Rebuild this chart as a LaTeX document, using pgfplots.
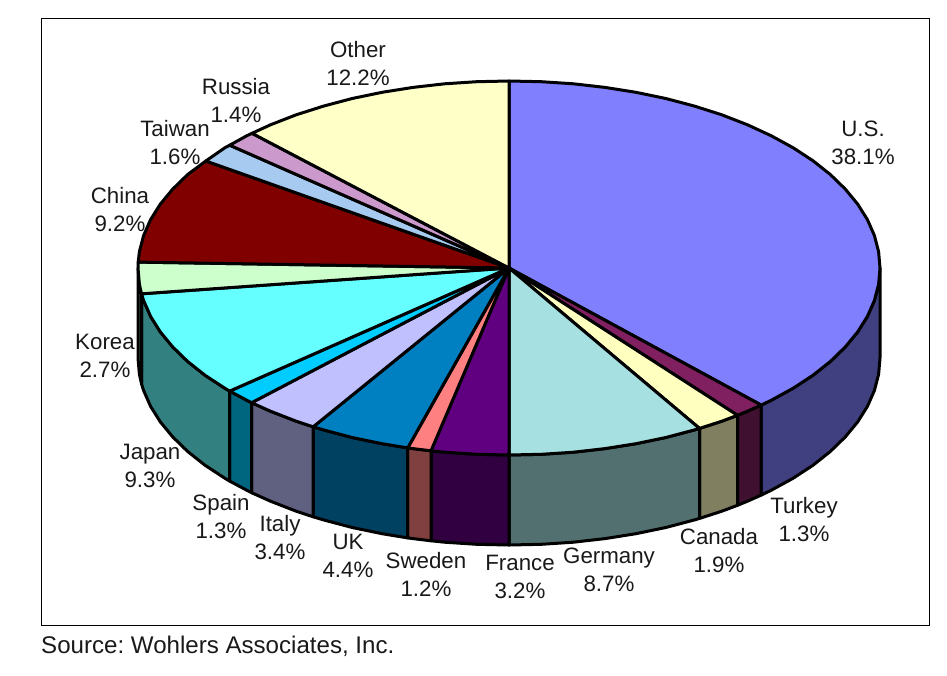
\documentclass[border=0pt]{standalone}
\usepackage{pgfplots}
\pgfplotsset{compat=1.18}
\usepackage{fontspec}
\setmainfont{Liberation Sans}
\definecolor{cUS}{HTML}{8080FF}\definecolor{sUS}{HTML}{404080}
\definecolor{cTU}{HTML}{802060}\definecolor{sTU}{HTML}{401030}
\definecolor{cCA}{HTML}{FFFFC0}\definecolor{sCA}{HTML}{808060}
\definecolor{cGE}{HTML}{A6E0E0}\definecolor{sGE}{HTML}{537070}
\definecolor{cFR}{HTML}{600080}\definecolor{sFR}{HTML}{300040}
\definecolor{cSW}{HTML}{FF8080}\definecolor{sSW}{HTML}{804040}
\definecolor{cUK}{HTML}{0080C0}\definecolor{sUK}{HTML}{004060}
\definecolor{cIT}{HTML}{C0C0FF}\definecolor{sIT}{HTML}{606080}
\definecolor{cSP}{HTML}{00CCFF}\definecolor{sSP}{HTML}{006680}
\definecolor{cJA}{HTML}{66FFFF}\definecolor{sJA}{HTML}{338080}
\definecolor{cKO}{HTML}{CCFFCC}\definecolor{sKO}{HTML}{668066}
\definecolor{cCH}{HTML}{800000}
\definecolor{cTA}{HTML}{A6CAF0}
\definecolor{cRU}{HTML}{CC99CC}
\definecolor{cOT}{HTML}{FFFFC8}
\tikzset{lab/.style={align=center,font=\fontsize{22.3}{28}\selectfont,text=black!90,inner sep=0pt}}
\begin{document}
\frenchspacing
\begin{tikzpicture}[x=1pt,y=1pt]
\path[use as bounding box] (0,0) rectangle (947,675);
\begin{axis}[
  at={(0,0)},anchor=south west,
  scale only axis,width=947pt,height=675pt,
  xmin=0,xmax=947,ymin=0,ymax=675,y dir=reverse,
  hide axis,clip=false,
  every axis plot/.append style={line width=3pt,line join=round,draw=black},
]
% frame
\addplot[draw=black,line width=1pt,line join=miter] coordinates {(41,18)(929,18)(929,625)(41,625)} -- cycle;
% sides
\addplot[fill=sUS] coordinates {(880,268)(878.6,284.3)(874.4,300.5)(867.4,316.4)(857.6,332)(845.2,347)(830.3,361.5)(812.9,375.3)(793.2,388.2)(771.3,400.2)(761.2,405.1)(761.2,495.1)(771.3,490.2)(793.2,478.2)(812.9,465.3)(830.3,451.5)(845.2,437)(857.6,422)(867.4,406.4)(874.4,390.5)(878.6,374.3)(880,358)} -- cycle;
\addplot[fill=sTU] coordinates {(761.2,405.1)(747.5,411.2)(737.5,415.3)(737.5,505.3)(747.5,501.2)(761.2,495.1)} -- cycle;
\addplot[fill=sCA] coordinates {(737.5,415.3)(721.8,421.2)(699.5,428.4)(699.5,518.4)(721.8,511.2)(737.5,505.3)} -- cycle;
\addplot[fill=sGE] coordinates {(699.5,428.4)(694.5,429.9)(665.8,437.5)(635.9,443.7)(605,448.6)(573.4,452.2)(541.3,454.3)(509,455)(509,545)(541.3,544.3)(573.4,542.2)(605,538.6)(635.9,533.7)(665.8,527.5)(694.5,519.9)(699.5,518.4)} -- cycle;
\addplot[fill=sFR] coordinates {(509,455)(476.7,454.3)(444.6,452.2)(431,450.8)(431,540.8)(444.6,542.2)(476.7,544.3)(509,545)} -- cycle;
\addplot[fill=sSW] coordinates {(431,450.8)(413,448.6)(407.7,447.9)(407.7,537.9)(413,538.6)(431,540.8)} -- cycle;
\addplot[fill=sUK] coordinates {(407.7,447.9)(382.1,443.7)(352.2,437.5)(323.5,429.9)(313.2,426.8)(313.2,516.8)(323.5,519.9)(352.2,527.5)(382.1,533.7)(407.7,537.9)} -- cycle;
\addplot[fill=sIT] coordinates {(313.2,426.8)(296.2,421.2)(270.5,411.2)(251.6,402.7)(251.6,492.7)(270.5,501.2)(296.2,511.2)(313.2,516.8)} -- cycle;
\addplot[fill=sSP] coordinates {(251.6,402.7)(246.7,400.2)(229.7,391.1)(229.7,481.1)(246.7,490.2)(251.6,492.7)} -- cycle;
\addplot[fill=sJA] coordinates {(229.7,391.1)(224.8,388.2)(205.1,375.3)(187.7,361.5)(172.8,347)(160.4,332)(150.6,316.4)(143.6,300.5)(141.5,293.8)(141.5,383.8)(143.6,390.5)(150.6,406.4)(160.4,422)(172.8,437)(187.7,451.5)(205.1,465.3)(224.8,478.2)(229.7,481.1)} -- cycle;
\addplot[fill=sKO] coordinates {(141.5,293.8)(139.4,284.3)(138,268)(138,358)(139.4,374.3)(141.5,383.8)} -- cycle;
% top wedges
\addplot[fill=cUS] coordinates {(509,268)(509,81)(541.3,81.7)(573.4,83.8)(605,87.4)(635.9,92.3)(665.8,98.5)(694.5,106.1)(721.8,114.8)(747.5,124.8)(771.3,135.8)(793.2,147.8)(812.9,160.7)(830.3,174.5)(845.2,189)(857.6,204)(867.4,219.6)(874.4,235.5)(878.6,251.7)(880,268)(878.6,284.3)(874.4,300.5)(867.4,316.4)(857.6,332)(845.2,347)(830.3,361.5)(812.9,375.3)(793.2,388.2)(771.3,400.2)(761.2,405.1)} -- cycle;
\addplot[fill=cTU] coordinates {(509,268)(761.2,405.1)(747.5,411.2)(737.5,415.3)} -- cycle;
\addplot[fill=cCA] coordinates {(509,268)(737.5,415.3)(721.8,421.2)(699.5,428.4)} -- cycle;
\addplot[fill=cGE] coordinates {(509,268)(699.5,428.4)(694.5,429.9)(665.8,437.5)(635.9,443.7)(605,448.6)(573.4,452.2)(541.3,454.3)(509,455)} -- cycle;
\addplot[fill=cFR] coordinates {(509,268)(509,455)(476.7,454.3)(444.6,452.2)(431,450.8)} -- cycle;
\addplot[fill=cSW] coordinates {(509,268)(431,450.8)(413,448.6)(407.7,447.9)} -- cycle;
\addplot[fill=cUK] coordinates {(509,268)(407.7,447.9)(382.1,443.7)(352.2,437.5)(323.5,429.9)(313.2,426.8)} -- cycle;
\addplot[fill=cIT] coordinates {(509,268)(313.2,426.8)(296.2,421.2)(270.5,411.2)(251.6,402.7)} -- cycle;
\addplot[fill=cSP] coordinates {(509,268)(251.6,402.7)(246.7,400.2)(229.7,391.1)} -- cycle;
\addplot[fill=cJA] coordinates {(509,268)(229.7,391.1)(224.8,388.2)(205.1,375.3)(187.7,361.5)(172.8,347)(160.4,332)(150.6,316.4)(143.6,300.5)(141.5,293.8)} -- cycle;
\addplot[fill=cKO] coordinates {(509,268)(141.5,293.8)(139.4,284.3)(138,268)(138.2,262.1)} -- cycle;
\addplot[fill=cCH] coordinates {(509,268)(138.2,262.1)(139.4,251.7)(143.6,235.5)(150.6,219.6)(160.4,204)(172.8,189)(187.7,174.5)(205.8,161)} -- cycle;
\addplot[fill=cTA] coordinates {(509,268)(205.8,161)(224.8,147.8)(229.7,145.2)} -- cycle;
\addplot[fill=cRU] coordinates {(509,268)(229.7,145.2)(246.7,135.8)(252,133.3)} -- cycle;
\addplot[fill=cOT] coordinates {(509,268)(252,133.3)(270.5,124.8)(296.2,114.8)(323.5,106.1)(352.2,98.5)(382.1,92.3)(413,87.4)(444.6,83.8)(476.7,81.7)(509,81)} -- cycle;
% labels
\node[lab] at (axis cs:863,143) {U.S.\\38.1\%};
\node[lab] at (axis cs:804,520) {Turkey\\1.3\%};
\node[lab] at (axis cs:719,551) {Canada\\1.9\%};
\node[lab] at (axis cs:609,570) {Germany\\8.7\%};
\node[lab] at (axis cs:520,577) {France\\3.2\%};
\node[lab] at (axis cs:426,574) {Sweden\\1.2\%};
\node[lab] at (axis cs:348,556) {UK\\4.4\%};
\node[lab] at (axis cs:280,538) {Italy\\3.4\%};
\node[lab] at (axis cs:221,517) {Spain\\1.3\%};
\node[lab] at (axis cs:150,466) {Japan\\9.3\%};
\node[lab] at (axis cs:105,356) {Korea\\2.7\%};
\node[lab] at (axis cs:120,210) {China\\9.2\%};
\node[lab] at (axis cs:175,143) {Taiwan\\1.6\%};
\node[lab] at (axis cs:236,100) {Russia\\1.4\%};
\node[lab] at (axis cs:358,63) {Other\\12.2\%};
\node[anchor=west,inner sep=0pt,font=\fontsize{24.1}{28}\selectfont,text=black!90] at (axis cs:41,646) {Source: Wohlers Associates, Inc.};
\end{axis}
\end{tikzpicture}
\end{document}
